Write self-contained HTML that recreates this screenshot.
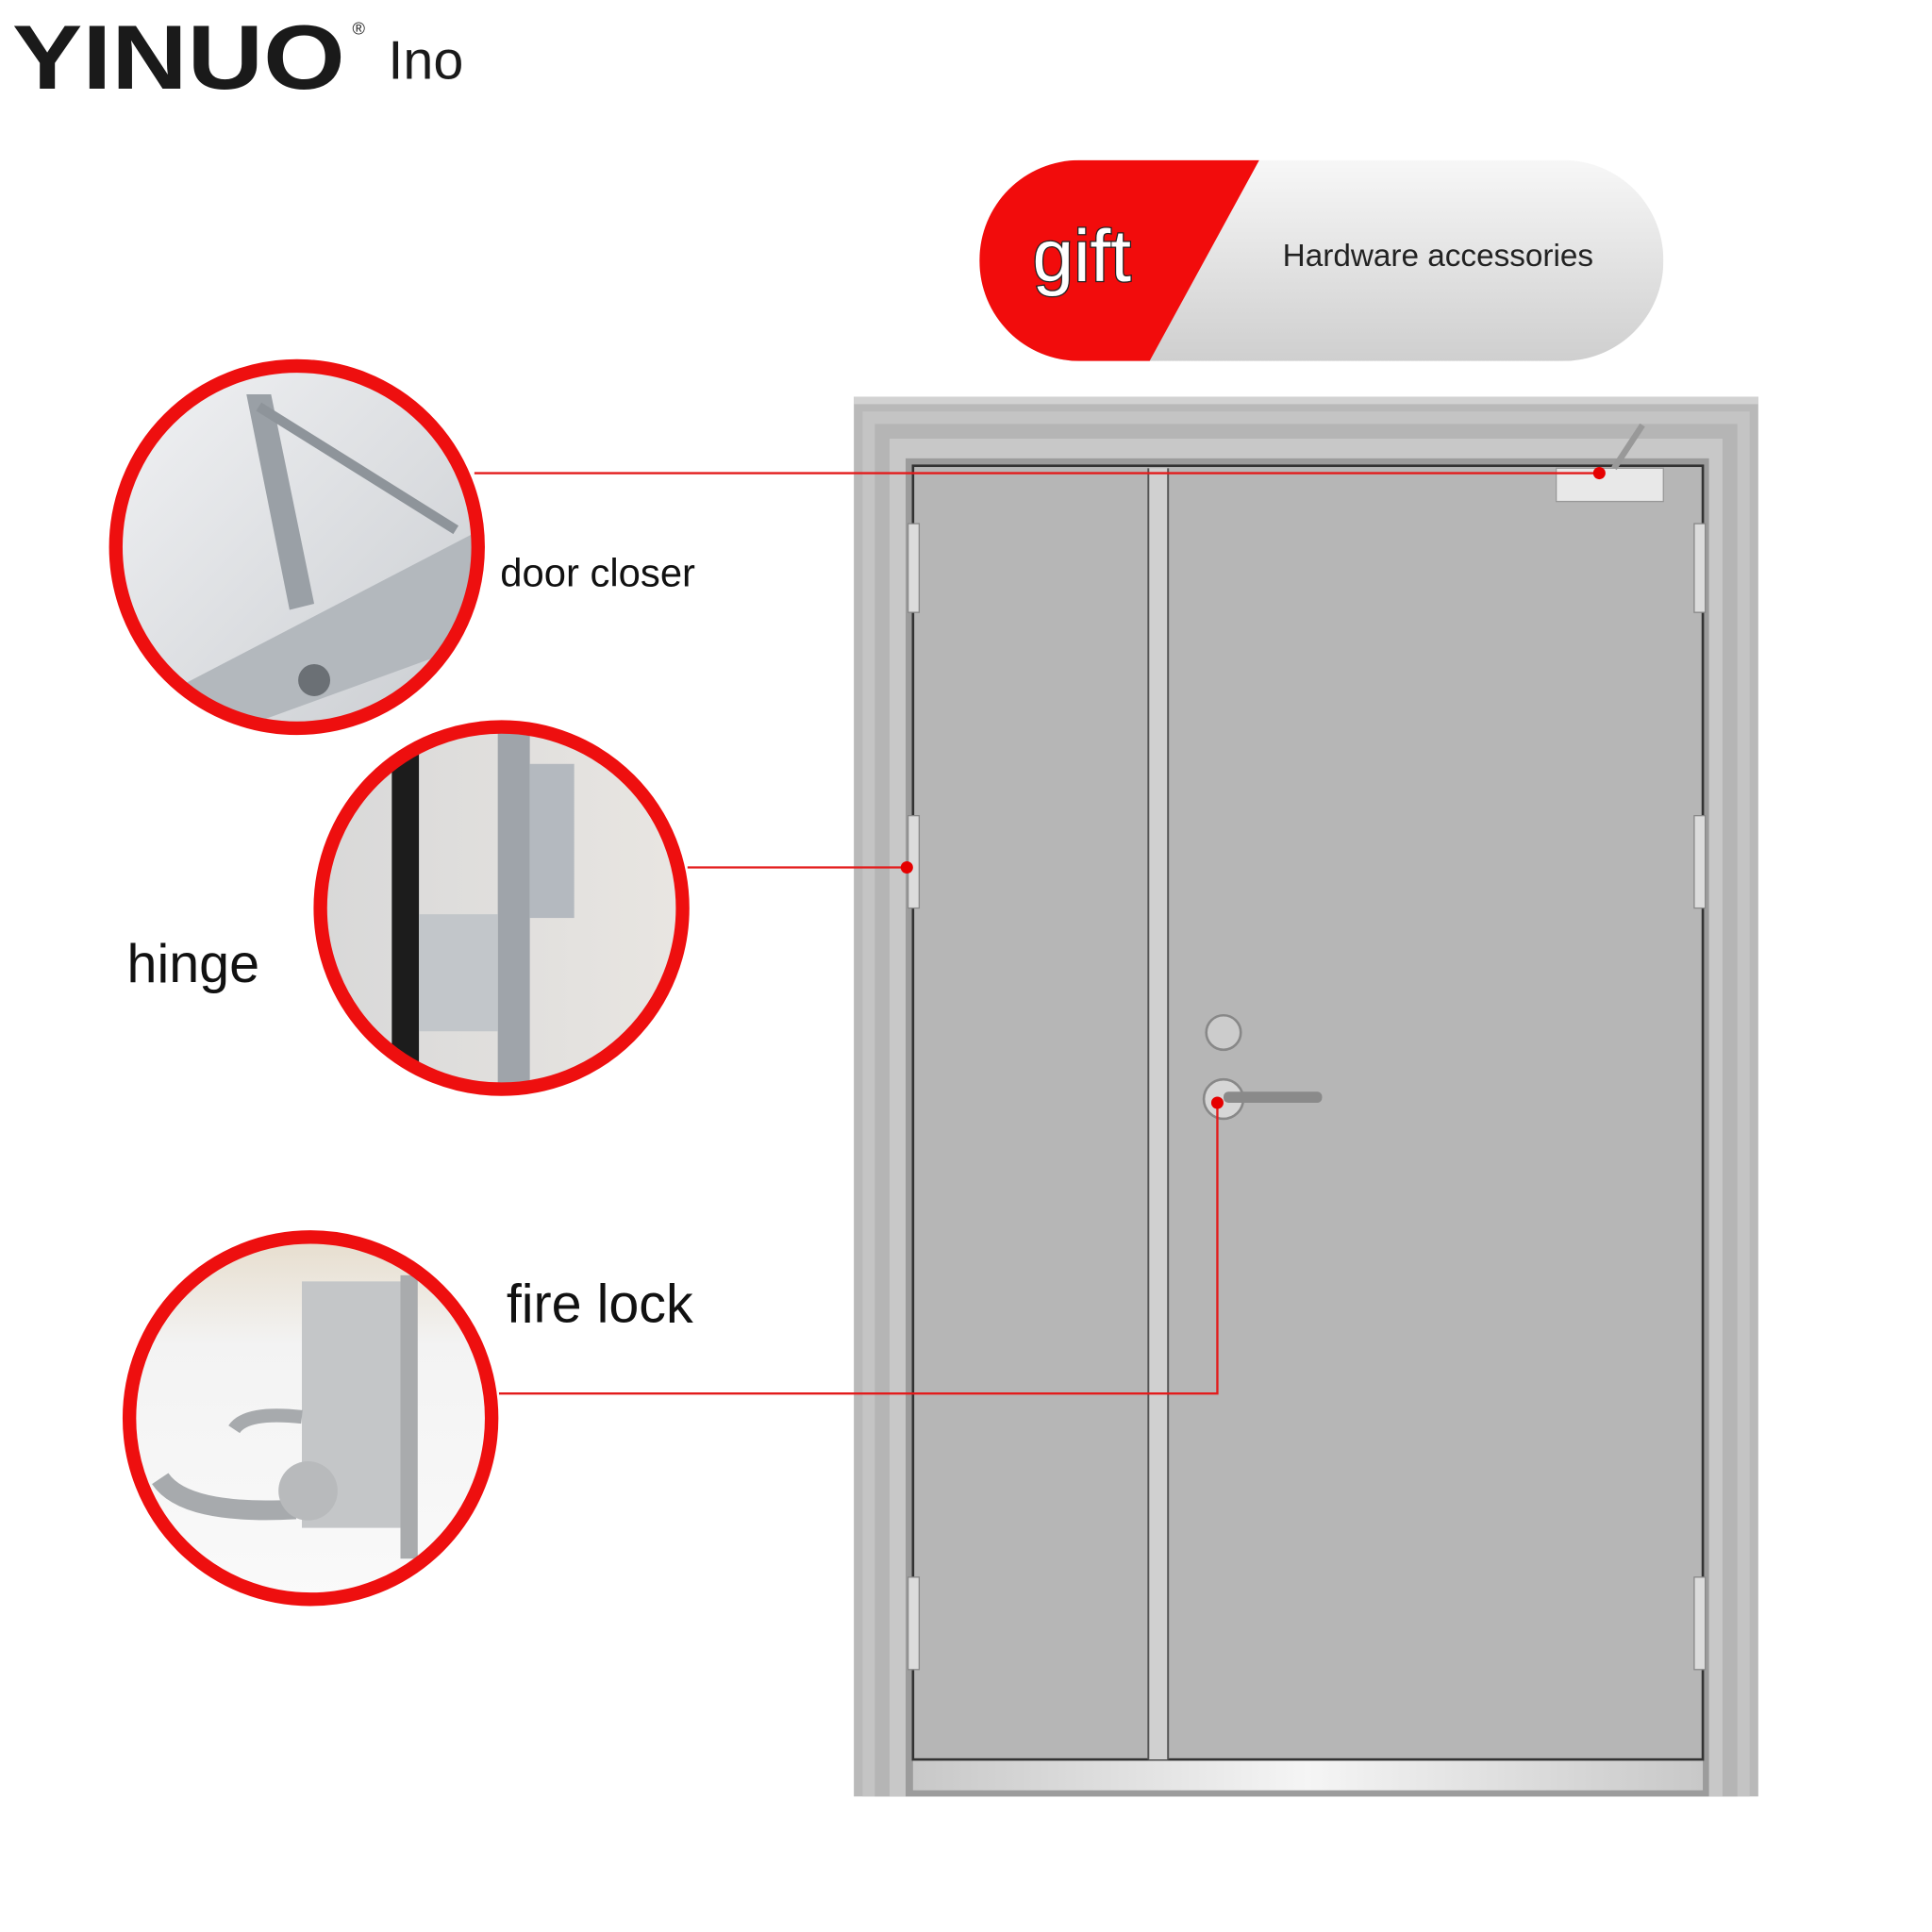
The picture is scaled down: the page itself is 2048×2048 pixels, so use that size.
<!DOCTYPE html>
<html><head><meta charset="utf-8"><style>
html,body{margin:0;padding:0;background:#fff;}
svg{display:block;}
text{font-family:"Liberation Sans",sans-serif;}
</style></head><body>
<svg width="2048" height="2048" viewBox="0 0 1568 1568" xmlns="http://www.w3.org/2000/svg">
<defs>
<linearGradient id="ban" x1="0" y1="0" x2="0" y2="1"><stop offset="0" stop-color="#f7f7f7"/><stop offset="1" stop-color="#cfcfcf"/></linearGradient>
<linearGradient id="c1" x1="0" y1="0" x2="1" y2="1"><stop offset="0" stop-color="#f2f3f5"/><stop offset="1" stop-color="#c9ccd0"/></linearGradient>
<linearGradient id="c2" x1="0" y1="0" x2="1" y2="0"><stop offset="0" stop-color="#d8d8d8"/><stop offset="1" stop-color="#e9e6e2"/></linearGradient>
<linearGradient id="c3" x1="0" y1="0" x2="0" y2="1"><stop offset="0" stop-color="#e6dccb"/><stop offset="0.3" stop-color="#f3f3f3"/><stop offset="1" stop-color="#fafafa"/></linearGradient>
<linearGradient id="bot" x1="0" y1="0" x2="1" y2="0"><stop offset="0" stop-color="#c8c8c8"/><stop offset="0.5" stop-color="#f5f5f5"/><stop offset="1" stop-color="#c8c8c8"/></linearGradient>
<clipPath id="k1"><circle cx="241" cy="444" r="146"/></clipPath>
<clipPath id="k2"><circle cx="407" cy="737" r="146"/></clipPath>
<clipPath id="k3"><circle cx="252" cy="1151" r="146"/></clipPath>
<clipPath id="kb"><rect x="795" y="130" width="555" height="163" rx="81"/></clipPath>
</defs>
<rect width="1568" height="1568" fill="#fff"/>

<text x="10" y="72" font-size="74" font-weight="bold" fill="#1a1a1a" textLength="270" lengthAdjust="spacingAndGlyphs">YINUO</text>
<text x="286" y="28" font-size="14" fill="#222">®</text>
<text x="315" y="64" font-size="44" fill="#1a1a1a">Ino</text>

<g clip-path="url(#kb)">
<rect x="795" y="130" width="555" height="163" fill="url(#ban)"/>
<polygon points="780,130 1022,130 933,293 780,293" fill="#f20c0c"/>
</g>
<text x="838" y="228" font-size="60" fill="#fff" stroke="#222" stroke-width="2" paint-order="stroke">gift</text>
<text x="1041" y="216" font-size="25.5" fill="#222">Hardware accessories</text>

<rect x="693" y="322" width="734" height="1136" fill="#b9b9b9"/>
<rect x="693" y="322" width="734" height="6" fill="#d2d2d2"/>
<rect x="700" y="334" width="720" height="1124" fill="#c4c4c4"/>
<rect x="710" y="344" width="700" height="1114" fill="#b5b5b5"/>
<rect x="722" y="356" width="676" height="1102" fill="#c8c8c8"/>
<rect x="735" y="372" width="652" height="1086" fill="#9c9c9c"/>
<rect x="741" y="378" width="641" height="1050" fill="#b6b6b6" stroke="#333" stroke-width="2"/>
<rect x="932" y="380" width="16" height="1048" fill="#d0d0d0"/>
<line x1="932" y1="380" x2="932" y2="1428" stroke="#555" stroke-width="1.5"/>
<line x1="948" y1="380" x2="948" y2="1428" stroke="#555" stroke-width="1.5"/>
<rect x="741" y="1429" width="641" height="24" fill="url(#bot)"/>
<g fill="#dcdcdc" stroke="#888" stroke-width="1">
<rect x="737" y="425" width="9" height="72"/><rect x="737" y="662" width="9" height="75"/><rect x="737" y="1280" width="9" height="75"/>
<rect x="1375" y="425" width="9" height="72"/><rect x="1375" y="662" width="9" height="75"/><rect x="1375" y="1280" width="9" height="75"/>
</g>
<rect x="1263" y="380" width="87" height="27" fill="#e8e8e8" stroke="#999"/>
<line x1="1310" y1="380" x2="1333" y2="345" stroke="#999" stroke-width="5"/>
<circle cx="993" cy="838" r="14" fill="#ccc" stroke="#888" stroke-width="2"/>
<circle cx="993" cy="892" r="16" fill="#d6d6d6" stroke="#888" stroke-width="2"/>
<rect x="993" y="886" width="80" height="9" rx="4" fill="#8a8a8a"/>

<g stroke="#e31b1b" stroke-width="1.8" fill="none">
<polyline points="385,384 1298,384"/>
<polyline points="558,704 736,704"/>
<polyline points="405,1131 988,1131 988,895"/>
</g>
<g fill="#e60000"><circle cx="1298" cy="384" r="5"/><circle cx="736" cy="704" r="5"/><circle cx="988" cy="895" r="5"/></g>

<g clip-path="url(#k1)">
<rect x="90" y="290" width="300" height="310" fill="url(#c1)"/>
<polygon points="140,560 390,430 390,520 170,600" fill="#b3b8bd"/>
<polygon points="200,320 220,320 255,490 235,495" fill="#9aa0a6"/>
<line x1="210" y1="330" x2="370" y2="430" stroke="#8e949a" stroke-width="8"/>
<circle cx="255" cy="552" r="13" fill="#6b7075"/>
</g>
<circle cx="241" cy="444" r="147" fill="none" stroke="#ee0f0f" stroke-width="11"/>
<g clip-path="url(#k2)">
<rect x="255" y="585" width="305" height="305" fill="url(#c2)"/>
<rect x="318" y="585" width="22" height="305" fill="#1c1c1c"/>
<rect x="404" y="585" width="26" height="305" fill="#9fa4aa"/>
<rect x="430" y="620" width="36" height="125" fill="#b4b9bf"/>
<rect x="340" y="742" width="64" height="95" fill="#c2c6ca"/>
</g>
<circle cx="407" cy="737" r="147" fill="none" stroke="#ee0f0f" stroke-width="11"/>
<g clip-path="url(#k3)">
<rect x="100" y="1000" width="305" height="305" fill="url(#c3)"/>
<rect x="245" y="1040" width="85" height="200" fill="#c4c6c8"/>
<rect x="325" y="1035" width="14" height="230" fill="#a9abad"/>
<path d="M130,1200 Q150,1230 240,1225" stroke="#a7aaad" stroke-width="16" fill="none"/>
<circle cx="250" cy="1210" r="24" fill="#b8babc"/>
<path d="M190,1160 Q200,1145 245,1150" stroke="#a7aaad" stroke-width="11" fill="none"/>
</g>
<circle cx="252" cy="1151" r="147" fill="none" stroke="#ee0f0f" stroke-width="11"/>

<text x="406" y="476" font-size="32" fill="#111">door closer</text>
<text x="103" y="797" font-size="44" fill="#111">hinge</text>
<text x="411" y="1073" font-size="44" fill="#111">fire lock</text>
</svg>
</body></html>
